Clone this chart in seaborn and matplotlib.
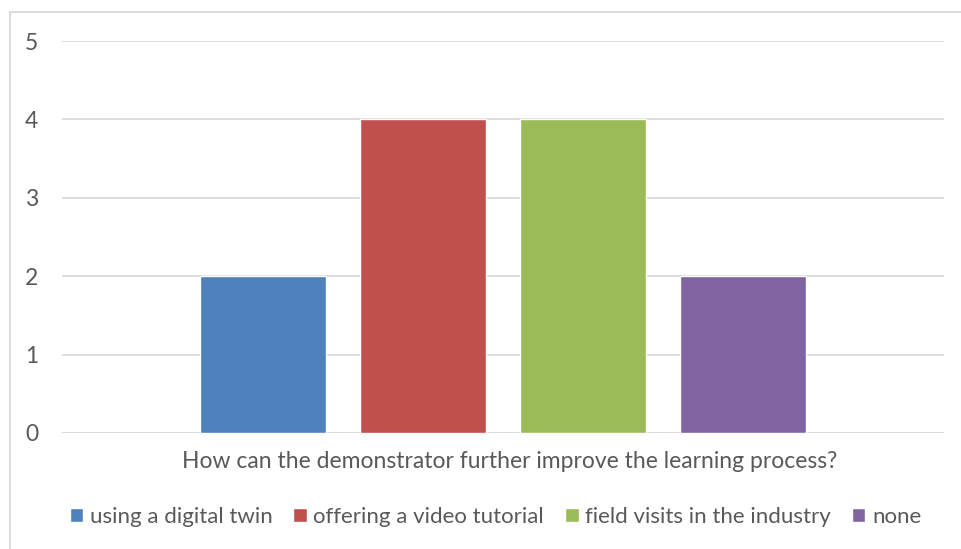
import matplotlib
matplotlib.use("Agg")
import matplotlib.pyplot as plt
import seaborn as sns
import pandas as pd

question = "How can the demonstrator further improve the learning process?"
answers = ["using a digital twin", "offering a video tutorial", "field visits in the industry", "none"]
counts = [2, 4, 4, 2]
colors = ["#4F81BD", "#C0504D", "#9BBB59", "#8064A2"]

df = pd.DataFrame({"question": [question] * len(answers), "answer": answers, "count": counts})

sns.set_theme(style="white")
plt.rcParams["font.family"] = ["Lato", "DejaVu Sans"]
text_col = "#595959"

fig = plt.figure(figsize=(9.62, 5.49), dpi=100)
ax = fig.add_axes([0.0645, 0.2113, 0.9168, 0.714])

sns.barplot(data=df, x="question", y="count", hue="answer", palette=colors,
            width=0.7256, gap=0.2125, saturation=1, legend=True, ax=ax)

ax.set_xlim(-0.5, 0.5)
ax.set_ylim(0, 5)
ax.set_yticks(range(0, 6))
ax.yaxis.grid(True, color="#D9D9D9", linewidth=1.3)
ax.set_axisbelow(True)
for s in ax.spines.values():
    s.set_visible(False)
ax.tick_params(axis="y", length=0, labelsize=16.5, colors=text_col, pad=17)
ax.set_xticks([])
ax.set_ylabel("")
ax.set_xlabel(question, fontsize=16.5, color=text_col, labelpad=13)
ax.xaxis.label.set_x(0.508)

handles, labels = ax.get_legend_handles_labels()
ax.get_legend().remove()
fig.legend(handles, labels, loc="center", bbox_to_anchor=(0.515, 1 - 517 / 549), ncol=4,
           frameon=False, fontsize=16, handlelength=0.6, handleheight=0.6,
           handletextpad=0.3, columnspacing=0.95, labelcolor=text_col)

# chart area border (left and top visible)
fig.add_artist(plt.Line2D([9.5 / 962, 9.5 / 962], [0, 1 - 11.5 / 549], color="#D9D9D9", linewidth=1.3))
fig.add_artist(plt.Line2D([9.5 / 962, 1], [1 - 11.5 / 549, 1 - 11.5 / 549], color="#D9D9D9", linewidth=1.3))

fig.savefig("out.png", dpi=100)
